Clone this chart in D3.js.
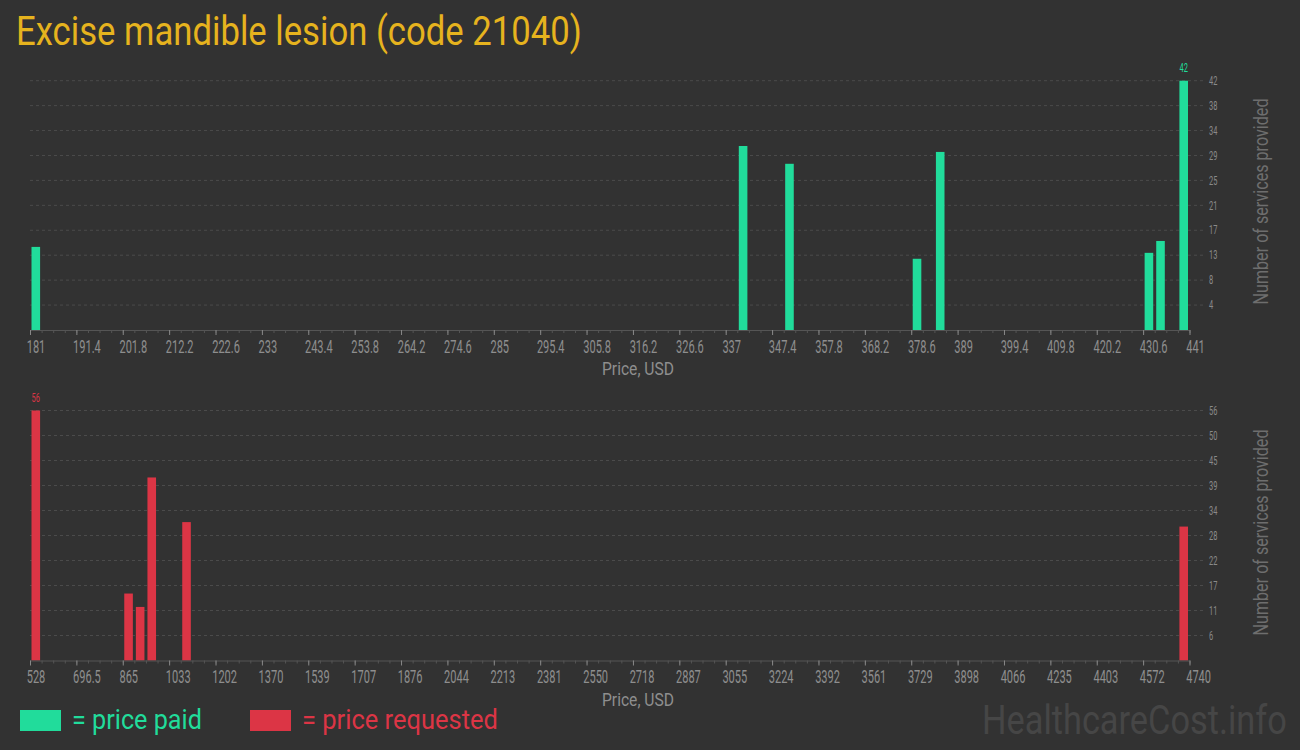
<!DOCTYPE html>
<html><head><meta charset="utf-8">
<script src="https://cdnjs.cloudflare.com/ajax/libs/d3/7.8.5/d3.min.js"></script>
<style>
html,body{margin:0;padding:0;background:#323232;}
svg{display:block;font-family:Roboto,"Noto Sans",sans-serif;}
</style></head>
<body>
<svg id="chart" width="1300" height="750"></svg>
<script>
// ---- data ----
const title = "Excise mandible lesion (code 21040)";
const paidTickLabels = ["181","191.4","201.8","212.2","222.6","233","243.4","253.8","264.2","274.6","285","295.4","305.8","316.2","326.6","337","347.4","357.8","368.2","378.6","389","399.4","409.8","420.2","430.6","441"];
const paidBinStarts = [181, 339.6, 350, 378.6, 383.8, 430.6, 433.2, 438.4];
const paidCounts    = [14, 31, 28, 12, 30, 13, 15, 42];
const paidYLabels   = ["4","8","13","17","21","25","29","34","38","42"];

const reqTickLabels = ["528","696.5","865","1033","1202","1370","1539","1707","1876","2044","2213","2381","2550","2718","2887","3055","3224","3392","3561","3729","3898","4066","4235","4403","4572","4740"];
const reqBinStarts = [528, 864.96, 907.08, 949.2, 1075.56, 4697.88];
const reqCounts    = [56, 15, 12, 41, 31, 30];
const reqYLabels   = ["6","11","17","22","28","34","39","45","50","56"];

const xMinMax = {paid:[181,441], req:[528,4740]};
const colors = {paid:"#21dc9b", req:"#dc3545", title:"#e6b31e", bg:"#323232"};

// ---- drawing ----
const svg = d3.select("#chart");
svg.append("rect").attr("width",1300).attr("height",750).attr("fill",colors.bg);

// helper: place text squeezed horizontally to a target width using a scale transform
function fitText(sel, x, y, targetW){
  const w = sel.node().getComputedTextLength();
  const k = w > 0 ? targetW / w : 1;
  sel.attr("x",0).attr("y",0).attr("transform",`translate(${x},${y}) scale(${k},1)`);
  return sel;
}

fitText(svg.append("text").attr("font-size",40).attr("fill",colors.title).text(title), 16, 45, 566);

function panel(opt){
  const {domain, tickLabels, bins, counts, yLabels, color, top, bottom, yTitleY} = opt;
  const left = 30, right = 1189.5, gridRight = 1205;
  const x = d3.scaleLinear().domain(domain).range([left,right]);
  const yMax = +yLabels[yLabels.length-1];
  const y = d3.scaleLinear().domain([0,yMax]).range([bottom,top]);
  const n = tickLabels.length;
  const step = (domain[1]-domain[0])/(n-1);
  const majorVals = d3.range(n).map(i=>domain[0]+i*step);
  const binW = step/4;
  const minorVals = d3.range((n-1)*4+1).map(i=>domain[0]+i*binW);
  const g = svg.append("g");

  // gridlines
  const yVals = d3.range(1,yLabels.length+1).map(i=>yMax*i/yLabels.length);
  g.selectAll(".grid").data(yVals).join("line")
    .attr("x1",left).attr("x2",gridRight)
    .attr("y1",d=>y(d)).attr("y2",d=>y(d))
    .attr("stroke","#4b4b4b").attr("stroke-dasharray","3,3").attr("stroke-width",1);
  g.selectAll(".ylab").data(yVals).join("text")
    .attr("transform",d=>`translate(1209,${y(d)}) scale(0.62,1)`)
    .attr("dy","0.35em").attr("font-size",12).attr("fill","#8a8a8a")
    .text((d,i)=>yLabels[i]);

  // bars
  g.selectAll(".bar").data(bins).join("rect")
    .attr("x",d=>x(d)+1.5)
    .attr("width",d=>x(d+binW)-x(d)-3)
    .attr("y",(d,i)=>y(counts[i]))
    .attr("height",(d,i)=>bottom-y(counts[i]))
    .attr("fill",color);

  // max label
  const mi = d3.maxIndex(counts);
  const mid = (x(bins[mi]) + x(bins[mi]+binW)) / 2;
  g.append("text")
    .attr("transform",`translate(${mid}, ${y(counts[mi])-9}) scale(0.62,1)`)
    .attr("x",0).attr("text-anchor","middle").attr("font-size",12).attr("fill",color)
    .text(counts[mi]);

  // minor ticks
  const minorAxis = d3.axisBottom(x).tickValues(minorVals).tickSize(3).tickFormat("");
  const gm = g.append("g").attr("transform",`translate(0,${bottom})`).call(minorAxis);
  gm.select(".domain").attr("stroke","#555");
  gm.selectAll(".tick line").attr("stroke","#555");

  // major ticks
  const majorAxis = d3.axisBottom(x).tickValues(majorVals).tickSize(5).tickSizeOuter(0)
    .tickFormat((d,i)=>tickLabels[i]);
  const ga = g.append("g").attr("transform",`translate(0,${bottom})`).call(majorAxis);
  ga.select(".domain").remove();
  ga.selectAll(".tick line").attr("stroke","#888");
  ga.selectAll(".tick text")
    .attr("text-anchor","start").attr("font-size",19).attr("fill","#8e8e8e")
    .attr("font-family","Roboto, sans-serif")
    .attr("y",0).attr("dy",0)
    .attr("transform","translate(-3.8,22.5) scale(0.58,1)").attr("x",0);

  // axis titles
  fitText(g.append("text").attr("font-size",18).attr("fill","#8e8e8e").text("Price, USD"),
    602, bottom+45, 72);
  g.append("text").attr("transform",`translate(1268,${yTitleY}) rotate(-90)`)
    .attr("text-anchor","middle").attr("font-size",20).attr("fill","#6e6e6e")
    .attr("textLength",206).attr("lengthAdjust","spacingAndGlyphs")
    .text("Number of services provided");
}

panel({domain:xMinMax.paid, tickLabels:paidTickLabels, bins:paidBinStarts, counts:paidCounts,
  yLabels:paidYLabels, color:colors.paid, top:80.7, bottom:330, yTitleY:201.5});
panel({domain:xMinMax.req, tickLabels:reqTickLabels, bins:reqBinStarts, counts:reqCounts,
  yLabels:reqYLabels, color:colors.req, top:410.5, bottom:660.5, yTitleY:532.5});

// legend
const legend = [{label:"= price paid", color:colors.paid, x:20, w:130},
                {label:"= price requested", color:colors.req, x:250, w:196}];
legend.forEach(d=>{
  svg.append("rect").attr("x",d.x).attr("y",710).attr("width",41).attr("height",21).attr("fill",d.color);
  fitText(svg.append("text").attr("font-size",28).attr("fill",d.color).text(d.label), d.x+52, 729, d.w);
});

fitText(svg.append("text").attr("font-size",40).attr("fill","#464646").text("HealthcareCost.info"), 982, 734, 305);
</script>
</body></html>
